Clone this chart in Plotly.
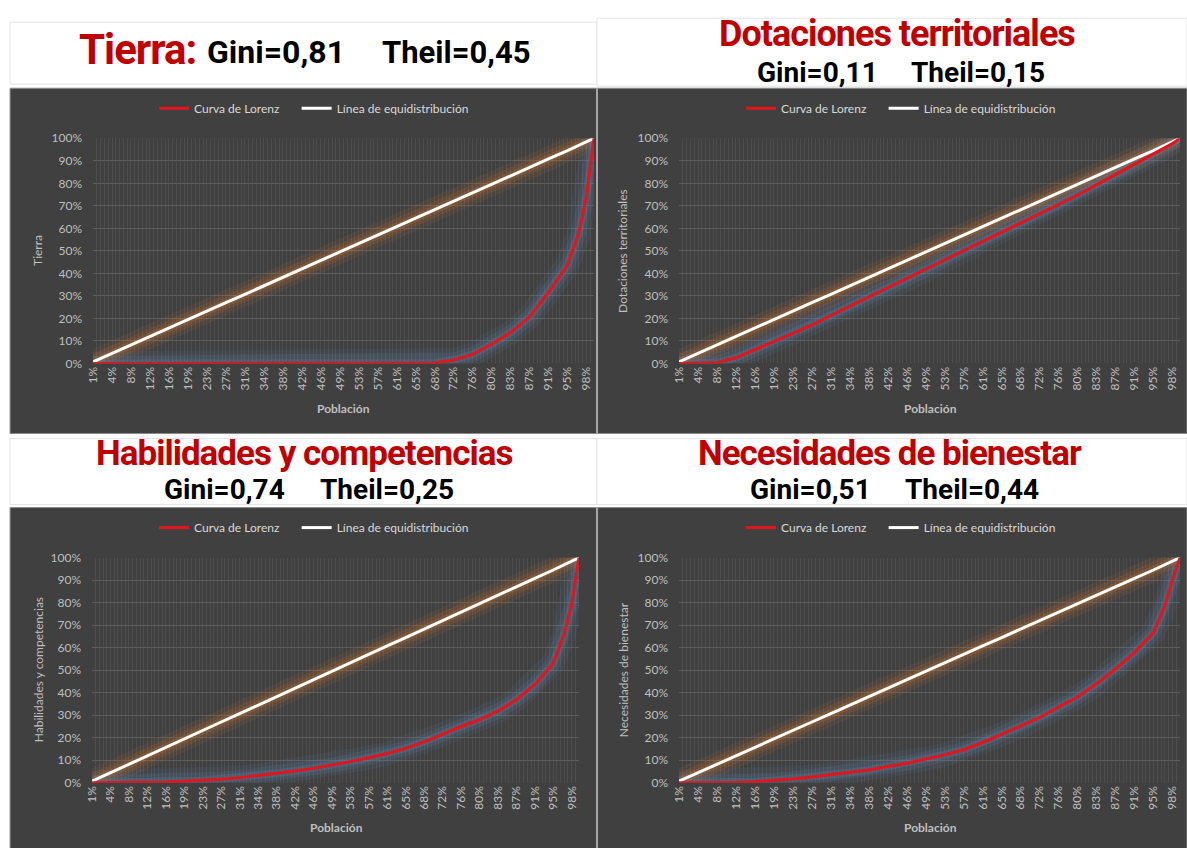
import plotly.graph_objects as go

W, H = 1187, 848

# Population axis: tick labels shown every 5 population categories (133 categories, 0..132)
etiquetas_poblacion = ["1%", "4%", "8%", "12%", "16%", "19%", "23%", "27%", "31%", "34%",
                       "38%", "42%", "46%", "49%", "53%", "57%", "61%", "65%", "68%", "72%",
                       "76%", "80%", "83%", "87%", "91%", "95%", "98%"]

# Category position of every plotted point
posiciones = [0, 5, 10, 15, 20, 25, 30, 35, 40, 45, 50, 55, 60, 65, 70, 75, 80, 85, 90,
              95, 100, 105, 110, 115, 120, 125, 128, 130, 132]

# Cumulative population share (equidistribution line), %
equidistribucion = [0.7, 4.5, 8.2, 12.0, 15.7, 19.5, 23.2, 27.0, 30.7, 34.5, 38.2, 42.0,
                    45.7, 49.5, 53.2, 57.0, 60.8, 64.5, 68.3, 72.0, 75.8, 79.5, 83.3, 87.0,
                    90.8, 94.5, 96.8, 98.3, 100.0]

# Cumulative share of each variable (Lorenz curves), %
lorenz_tierra = [0, 0, 0, 0, 0, 0, 0, 0, 0, 0, 0, 0, 0, 0, 0, 0, 0, 0, 0.2,
                 1.5, 4.0, 8.5, 13.7, 20.6, 31.5, 43.6, 58.0, 74.0, 100.0]
lorenz_dotaciones = [0, 0.1, 0.3, 2.5, 6.2, 9.8, 13.4, 17.0, 21.3, 25.4, 29.4, 33.5, 37.5,
                     41.6, 45.7, 49.8, 54.0, 58.1, 62.2, 66.4, 70.5, 74.7, 79.3, 83.9,
                     88.4, 93.0, 95.8, 97.6, 100.0]
lorenz_habilidades = [0, 0, 0, 0.1, 0.3, 0.7, 1.0, 1.6, 2.3, 3.2, 4.2, 5.2, 6.4, 7.8, 9.4,
                      11.1, 13.0, 15.3, 18.2, 21.5, 25.0, 28.0, 31.8, 36.9, 43.6, 53.0,
                      66.0, 79.0, 100.0]
lorenz_necesidades = [0, 0, 0, 0.1, 0.5, 1.0, 1.7, 2.6, 3.6, 4.6, 5.7, 7.2, 8.7, 10.6,
                      12.4, 14.7, 17.9, 21.5, 25.1, 29.0, 33.6, 38.1, 44.0, 50.5, 57.8,
                      66.7, 78.5, 90.0, 100.0]

titulos = ["Tierra", "Dotaciones territoriales", "Habilidades y competencias",
           "Necesidades de bienestar"]
indices_gini = ["0,81", "0,11", "0,74", "0,51"]
indices_theil = ["0,45", "0,15", "0,25", "0,44"]

ROJO_TITULO = "#c00000"
ROJO_CURVA = "#e3141c"
FONDO = "#404040"
TEXTO_EJE = "#bfbfbf"
FUENTE_TITULO = "Roboto, 'Liberation Sans', sans-serif"
FUENTE_EJE = "Lato, 'Open Sans', sans-serif"
SEPARACION = "&nbsp;" * 4  # gap after the first legend entry

# Panel geometry is laid out on a 1195x864 sheet whose 8 px border falls outside the figure
HOJA_X, HOJA_Y, BORDE = 1195 / W, 864 / H, 8


def px(x):
    return min(max((x * HOJA_X - BORDE) / W, 0.0), 1.0)


def py(y):
    return min(max(1 - (y * HOJA_Y - BORDE) / H, 0.0), 1.0)


def px_libre(x):
    return (x * HOJA_X - BORDE) / W


def py_libre(y):
    return 1 - (y * HOJA_Y - BORDE) / H


# Layout of each panel on the sheet
paneles = [
    dict(caja=(10, 597, 88, 433), plot=(93, 594, 138, 363), ytit=38, xtit=(343, 408)),
    dict(caja=(597, 1187, 88, 433), plot=(679, 1180, 138, 363), ytit=623, xtit=(930, 408)),
    dict(caja=(10, 597, 507, 848), plot=(92, 579, 557, 782), ytit=38, xtit=(336, 827)),
    dict(caja=(597, 1187, 507, 848), plot=(679, 1180, 557, 782), ytit=623, xtit=(930, 827)),
]
series = [lorenz_tierra, lorenz_dotaciones, lorenz_habilidades, lorenz_necesidades]

fig = go.Figure()
shapes = []
annotations = []
layout = {}

for k, (pan, lorenz, titulo) in enumerate(zip(paneles, series, titulos)):
    sfx = "" if k == 0 else str(k + 1)
    xa, ya = "x" + sfx, "y" + sfx
    leg = "legend" + sfx
    x0, x1, y0, y1 = pan["caja"]
    shapes.append(dict(type="rect", xref="paper", yref="paper", x0=px_libre(x0),
                       x1=px_libre(x1), y0=py_libre(y1), y1=py_libre(y0), fillcolor=FONDO,
                       line=dict(color="#8c8c8c", width=1), layer="below"))

    # soft glow under each line
    for w, a in [(24, 0.10), (15, 0.15), (8, 0.22)]:
        fig.add_trace(go.Scatter(x=posiciones, y=equidistribucion, mode="lines",
                                 line=dict(color=f"rgba(210,118,45,{a})", width=w),
                                 xaxis=xa, yaxis=ya, showlegend=False, hoverinfo="skip",
                                 cliponaxis=False))
        fig.add_trace(go.Scatter(x=posiciones, y=lorenz, mode="lines",
                                 line=dict(color=f"rgba(95,140,185,{a})", width=w),
                                 xaxis=xa, yaxis=ya, showlegend=False, hoverinfo="skip",
                                 cliponaxis=False))

    fig.add_trace(go.Scatter(x=posiciones, y=equidistribucion, mode="lines",
                             name="Línea de equidistribución", legendrank=2,
                             line=dict(color="#ffffff", width=3), xaxis=xa, yaxis=ya,
                             legend=leg, cliponaxis=False))
    fig.add_trace(go.Scatter(x=posiciones, y=lorenz, mode="lines",
                             name="Curva de Lorenz" + SEPARACION, legendrank=1,
                             line=dict(color=ROJO_CURVA, width=3), xaxis=xa, yaxis=ya,
                             legend=leg, cliponaxis=False))

    a0, a1, b0, b1 = pan["plot"]
    layout["xaxis" + sfx] = dict(
        domain=[px(a0), px(a1)], anchor=ya, range=[0, 132],
        tickmode="array", tickvals=list(range(0, 131, 5)), ticktext=etiquetas_poblacion,
        tickangle=-90, tickfont=dict(color=TEXTO_EJE, size=12, family=FUENTE_EJE),
        showgrid=False, zeroline=False, showline=False, ticks="",
        minor=dict(tickmode="linear", tick0=0, dtick=1, showgrid=True,
                   gridcolor="rgba(255,255,255,0.07)", gridwidth=1),
    )
    layout["yaxis" + sfx] = dict(
        domain=[py(b1), py(b0)], anchor=xa, range=[0, 100], dtick=10, ticksuffix="%",
        tickfont=dict(color=TEXTO_EJE, size=12, family=FUENTE_EJE),
        gridcolor="#5c5c5c", gridwidth=1, zeroline=False, showline=False,
        ticklabelstandoff=10,
    )
    layout[leg] = dict(
        orientation="h", x=px(x0 + 144), y=py(y0 + 20), xanchor="left",
        yanchor="middle", bgcolor="rgba(0,0,0,0)",
        font=dict(color="#d9d9d9", size=12, family=FUENTE_EJE), itemwidth=30,
    )

    # axis titles
    annotations.append(dict(text="<b>Población</b>", x=px(pan["xtit"][0]), y=py(pan["xtit"][1]),
                            xref="paper", yref="paper", xanchor="center", yanchor="middle",
                            showarrow=False,
                            font=dict(color=TEXTO_EJE, size=12, family=FUENTE_EJE)))
    annotations.append(dict(text=titulo, x=px(pan["ytit"]), y=py((b0 + b1) / 2),
                            xref="paper", yref="paper", xanchor="center", yanchor="middle",
                            showarrow=False, textangle=-90,
                            font=dict(color=TEXTO_EJE, size=12, family=FUENTE_EJE)))

# white title boxes
for (x0, x1, y0, y1) in [(10, 597, 22, 84), (597, 1187, 18, 86), (10, 597, 438, 504),
                         (597, 1187, 438, 504)]:
    shapes.append(dict(type="rect", xref="paper", yref="paper", x0=px_libre(x0),
                       x1=px_libre(x1), y0=py_libre(y1), y1=py_libre(y0), fillcolor="#ffffff",
                       line=dict(color="#e4e4e4", width=1), layer="below"))

# separators between the dark panels
for (y0, y1) in [(88, 433), (507, 848)]:
    shapes.append(dict(type="line", xref="paper", yref="paper", x0=px(597), x1=px(597),
                       y0=py_libre(y1), y1=py_libre(y0), line=dict(color="#a6a6a6", width=2)))


def texto(t, x, y, size, color, xanchor="left", espaciado=-1):
    annotations.append(dict(text=f"<b><span style='letter-spacing:{espaciado}px'>{t}</span></b>",
                            x=px(x), y=py(y), xref="paper", yref="paper",
                            xanchor=xanchor, yanchor="middle", showarrow=False,
                            font=dict(color=color, size=size, family=FUENTE_TITULO)))


# panel headings
texto(titulos[0] + ":", 77, 49, 42, ROJO_TITULO)
texto(f"Gini={indices_gini[0]}", 205, 52, 32, "#000000", espaciado=0)
texto(f"Theil={indices_theil[0]}", 380, 52, 31, "#000000", espaciado=0)

texto(titulos[1], 897, 34, 36, ROJO_TITULO, "center")
texto(f"Gini={indices_gini[1]}", 755, 72, 28, "#000000", espaciado=0)
texto(f"Theil={indices_theil[1]}", 909, 72, 28, "#000000", espaciado=0)

texto(titulos[2], 304, 453, 35, ROJO_TITULO, "center")
texto(f"Gini={indices_gini[2]}", 162, 489, 28, "#000000", espaciado=0)
texto(f"Theil={indices_theil[2]}", 318, 489, 28, "#000000", espaciado=0)

texto(titulos[3], 890, 453, 35, ROJO_TITULO, "center")
texto(f"Gini={indices_gini[3]}", 748, 489, 28, "#000000", espaciado=0)
texto(f"Theil={indices_theil[3]}", 903, 489, 28, "#000000", espaciado=0)

fig.update_layout(
    width=W, height=H, margin=dict(l=0, r=0, t=0, b=0),
    paper_bgcolor="#ffffff", plot_bgcolor="rgba(0,0,0,0)",
    shapes=shapes, annotations=annotations, **layout,
)

fig.write_html("out.html")
